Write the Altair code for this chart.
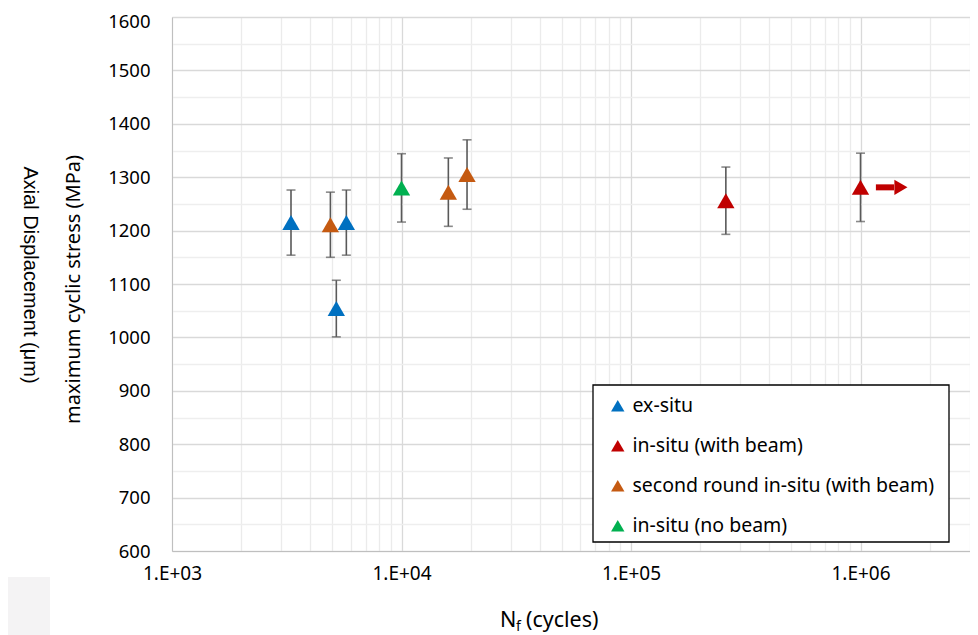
import altair as alt
import pandas as pd

# ---- data ----
series = ["ex-situ", "ex-situ", "ex-situ",
          "second round in-situ (with beam)", "in-situ (no beam)",
          "second round in-situ (with beam)", "second round in-situ (with beam)",
          "in-situ (with beam)", "in-situ (with beam)"]
cycles = [3300, 5200, 5750, 4900, 10000, 16000, 19300, 259000, 1000000]
stress = [1215, 1054, 1215, 1211, 1280, 1272, 1305, 1256, 1281]
error = [61, 53, 61, 61, 64, 64, 65, 63, 64]

legend_order = ["ex-situ", "in-situ (with beam)",
                "second round in-situ (with beam)", "in-situ (no beam)"]
legend_colors = ["#0070C0", "#C00000", "#C55A11", "#00B050"]

# run-out arrow next to the 1E+06 point
runout_shaft = [1167000, 1400000]
runout_head = [1500000]
runout_stress = [1281]

x_title_parts = ["N", "f", "(cycles)"]
y_title = "maximum cyclic stress (MPa)"
side_text = "Axial Displacement (μm)"

x_domain = [1000, 3000000]
y_domain = [600, 1600]
x_ticks = [m * 10 ** e for e in range(3, 6) for m in range(1, 10)] + [1000000, 2000000, 3000000]
y_ticks = list(range(600, 1601, 50))

df = pd.DataFrame({"series": series, "cycles": cycles, "stress": stress, "err": error})
df["low"] = df["stress"] - df["err"]
df["high"] = df["stress"] + df["err"]

arrow_df = pd.DataFrame({"x1": [runout_shaft[0]], "x2": [runout_shaft[1]],
                         "head": runout_head, "y": runout_stress})

FONT = "Noto Sans"
decade_test = "abs(log(datum.value)/LN10 - round(log(datum.value)/LN10)) < 1e-6"

x_axis = alt.Axis(
    values=x_ticks,
    labelExpr=f"({decade_test}) ? '1.E+0' + round(log(datum.value)/LN10) : ''",
    ticks=False, labelPadding=13, labelFontSize=19, labelFont=FONT, labelColor="#000000",
    domainColor="#bfbfbf", domainWidth=1,
    grid=True,
    gridColor={"condition": {"test": decade_test, "value": "#d9d9d9"}, "value": "#ebebeb"},
    gridWidth=1.3,
    title=None, labelOverlap=False, labelFlush=False,
)
y_axis = alt.Axis(
    values=y_ticks, format="d",
    labelExpr="datum.value % 100 == 0 ? datum.label : ''",
    ticks=False, labelPadding=22, labelFontSize=18.5, labelFont=FONT, labelColor="#000000",
    labelOffset={"condition": {"test": "datum.value >= 1600", "value": 4}, "value": 0},
    domainColor="#bfbfbf", domainWidth=1,
    grid=True,
    gridColor={"condition": {"test": "datum.value % 100 == 0", "value": "#d9d9d9"}, "value": "#eeeeee"},
    gridWidth=1.3,
    title=y_title, titleFont=FONT, titleFontSize=20, titleFontWeight="normal",
    titleColor="#000000", titleAngle=270, titleX=-99, titleY=272,
    titleBaseline="middle", titleAlign="center", labelOverlap=False,
)

xs = alt.Scale(type="log", domain=x_domain, nice=False)
ys = alt.Scale(domain=y_domain, nice=False, zero=False)

base = alt.Chart(df)

errbars = base.mark_rule(color="#595959", strokeWidth=1.6).encode(
    x=alt.X("cycles:Q", scale=xs, axis=x_axis),
    y=alt.Y("low:Q", scale=ys, axis=y_axis),
    y2="high:Q",
)
caps_low = base.mark_tick(color="#595959", orient="horizontal", size=9, thickness=1.6).encode(
    x=alt.X("cycles:Q", scale=xs, axis=x_axis),
    y=alt.Y("low:Q", scale=ys, axis=y_axis),
)
caps_high = base.mark_tick(color="#595959", orient="horizontal", size=9, thickness=1.6).encode(
    x=alt.X("cycles:Q", scale=xs, axis=x_axis),
    y=alt.Y("high:Q", scale=ys, axis=y_axis),
)
points = base.mark_point(shape="triangle-up", filled=True, size=300, opacity=1).encode(
    x=alt.X("cycles:Q", scale=xs, axis=x_axis),
    y=alt.Y("stress:Q", scale=ys, axis=y_axis),
    color=alt.Color("series:N",
                    scale=alt.Scale(domain=legend_order, range=legend_colors),
                    sort=legend_order,
                    legend=alt.Legend(
                        title=None, orient="none", legendX=436, legendY=379,
                        padding=0,
                        symbolType="triangle-up", symbolSize=180, symbolStrokeWidth=0,
                        symbolOpacity=1, labelFontSize=19.5, labelFont=FONT,
                        labelColor="#000000", rowPadding=19, labelOffset=5,
                        labelLimit=500)),
)

arrow_shaft = alt.Chart(arrow_df).mark_rule(color="#C00000", strokeWidth=6).encode(
    x=alt.X("x1:Q", scale=xs, axis=x_axis), x2="x2:Q",
    y=alt.Y("y:Q", scale=ys, axis=y_axis),
)
arrow_head = alt.Chart(arrow_df).mark_point(shape="triangle-right", filled=True,
                                            size=230, opacity=1, color="#C00000").encode(
    x=alt.X("head:Q", scale=xs, axis=x_axis),
    y=alt.Y("y:Q", scale=ys, axis=y_axis),
)

one = pd.DataFrame({"k": [0]})
legend_box = alt.Chart(one).mark_rect(fill="#ffffff", stroke="#000000", strokeWidth=1.3).encode(
    x=alt.value(421), x2=alt.value(777), y=alt.value(368), y2=alt.value(525))
t_n = alt.Chart(one).mark_text(text=x_title_parts[0], font=FONT, fontSize=21.5, align="left",
                               baseline="alphabetic", color="#000000").encode(
    x=alt.value(328), y=alt.value(610))
t_f = alt.Chart(one).mark_text(text=x_title_parts[1], font=FONT, fontSize=14, align="left",
                               baseline="alphabetic", color="#000000").encode(
    x=alt.value(344), y=alt.value(614))
t_c = alt.Chart(one).mark_text(text=x_title_parts[2], font=FONT, fontSize=21.5, align="left",
                               baseline="alphabetic", color="#000000").encode(
    x=alt.value(354), y=alt.value(610))
t_side = alt.Chart(one).mark_text(text=side_text, font="Liberation Sans", fontSize=20,
                                  angle=90, align="center", baseline="middle",
                                  color="#000000").encode(
    x=alt.value(-142), y=alt.value(258))
bg_box = alt.Chart(one).mark_rect(color="#f4f3f4").encode(
    x=alt.value(-164), x2=alt.value(-122), y=alt.value(560), y2=alt.value(618))

chart = alt.layer(
    bg_box, legend_box, errbars, caps_low, caps_high, points, arrow_shaft, arrow_head,
    t_n, t_f, t_c, t_side,
).properties(
    width=798, height=534,
    autosize=alt.AutoSizeParams(type="none"),
    padding={"left": 164, "top": 9, "right": 0, "bottom": 84},
).configure_view(stroke=None)

chart.save("out.html", embed_options={"renderer": "svg", "actions": False})
